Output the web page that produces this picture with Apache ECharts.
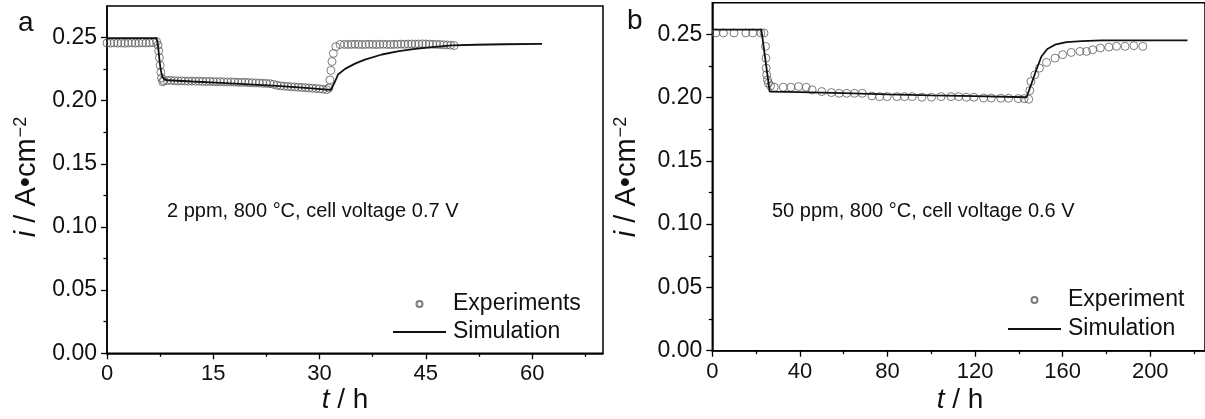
<!DOCTYPE html>
<html>
<head>
<meta charset="utf-8">
<script src="https://cdn.jsdelivr.net/npm/echarts@6/dist/echarts.min.js"></script>
<style>
  html, body { margin: 0; padding: 0; background: #fff; }
  #chart { width: 1205px; height: 419px; }
</style>
</head>
<body>
<div id="chart"></div>
<script>
// Panel a: 2 ppm, 800 °C, 0.7 V  — current density i (A/cm²) vs time t (h)
const expA = [
  [0,0.2457],[0.5,0.2456],[1,0.2458],[1.5,0.2456],[2,0.2457],[2.5,0.2455],[3,0.2457],[3.5,0.2458],
  [4,0.2456],[4.5,0.2457],[5,0.2459],[5.5,0.2457],[6,0.2458],[6.5,0.2460],[7,0.2468],[7.2,0.2440],
  [7.3,0.2395],[7.4,0.2340],[7.5,0.2280],[7.6,0.2225],[7.7,0.2180],[7.85,0.2150],[8,0.2158],[8.5,0.2160],
  [9,0.2161],[9.5,0.2158],[10,0.2157],[10.5,0.2158],[11,0.2156],[11.5,0.2155],[12,0.2156],[12.5,0.2154],
  [13,0.2155],[13.5,0.2153],[14,0.2152],[14.5,0.2153],[15,0.2151],[15.5,0.2150],[16,0.2151],[16.5,0.2149],
  [17,0.2148],[17.5,0.2149],[18,0.2147],[18.5,0.2146],[19,0.2145],[19.5,0.2146],[20,0.2143],[20.5,0.2142],
  [21,0.2141],[21.5,0.2140],[22,0.2138],[22.5,0.2137],[23,0.2135],[23.5,0.2130],[24,0.2122],[24.5,0.2118],
  [25,0.2115],[25.5,0.2113],[26,0.2110],[26.5,0.2109],[27,0.2107],[27.5,0.2105],[28,0.2103],[28.5,0.2101],
  [29,0.2099],[29.5,0.2097],[30,0.2094],[30.5,0.2091],[31,0.2088],[31.3,0.2100],[31.45,0.2165],[31.6,0.2240],
  [31.75,0.2310],[31.95,0.2375],[32.3,0.2428],[32.9,0.2445],[33.5,0.2446],[34,0.2445],[34.5,0.2446],[35,0.2447],
  [35.5,0.2446],[36,0.2445],[36.5,0.2446],[37,0.2447],[37.5,0.2446],[38,0.2445],[38.5,0.2446],[39,0.2447],
  [39.5,0.2446],[40,0.2445],[40.5,0.2446],[41,0.2447],[41.5,0.2448],[42,0.2447],[42.5,0.2448],[43,0.2449],
  [43.5,0.2448],[44,0.2449],[44.5,0.2450],[45,0.2449],[45.5,0.2448],[46,0.2447],[46.5,0.2446],[47,0.2445],
  [47.5,0.2443],[48,0.2442],[48.5,0.2440],[49,0.2437]
];
const simA = [
  [0,0.2495],[7.0,0.2495],[7.15,0.2460],[7.3,0.2380],[7.45,0.2300],[7.6,0.2240],[7.8,0.2190],[8.1,0.2168],
  [8.6,0.2162],[12,0.2152],[16,0.2142],[20,0.2130],[24,0.2117],[28,0.2102],[31.0,0.2088],[31.6,0.2087],
  [32.2,0.2154],[32.6,0.2207],[33.6,0.2252],[35.0,0.2294],[36.4,0.2326],[38.8,0.2366],[41.2,0.2392],
  [43.5,0.2411],[45.9,0.2424],[48.7,0.2438],[52,0.2443],[56,0.2447],[61.4,0.2450]
];

// Panel b: 50 ppm, 800 °C, 0.6 V
const expB = [
  [1.6,0.2511],[5.1,0.2511],[9.9,0.2511],[15.3,0.2511],[18.5,0.2511],[22.2,0.2511],[23.6,0.2511],
  [24.3,0.2405],[24.5,0.2312],[24.6,0.2233],[24.8,0.2180],[25.2,0.2140],[25.6,0.2114],[26.6,0.2093],
  [28.3,0.2082],[32.4,0.2082],[35.9,0.2082],[39.4,0.2087],[42.9,0.2082],[45.6,0.2061],[50.0,0.2048],
  [54.4,0.2040],[57.9,0.2034],[61.4,0.2034],[65.0,0.2034],[68.5,0.2034],[72.9,0.2013],[76.4,0.2008],
  [79.9,0.2008],[84.3,0.2008],[87.8,0.2008],[91.3,0.2008],[95.7,0.2003],[100.1,0.2003],[104.5,0.2008],
  [109.0,0.2008],[112.5,0.2008],[116.0,0.2003],[119.5,0.2003],[123.9,0.1997],[127.4,0.1997],[131.8,0.1995],
  [135.3,0.1995],[139.7,0.1992],[142.4,0.1992],[144.5,0.1987],[145.0,0.2056],[145.5,0.2127],[147.3,0.2180],
  [149.4,0.2233],[152.6,0.2278],[156.5,0.2312],[160.0,0.2339],[163.9,0.2357],[167.9,0.2365],[170.9,0.2365],
  [173.7,0.2378],[177.2,0.2392],[181.1,0.2399],[184.6,0.2405],[188.5,0.2405],[192.5,0.2410],[196.6,0.2405]
];
const simB = [
  [0,0.2537],[22.4,0.2537],[26.2,0.2048],[40,0.2043],[60,0.2035],[80,0.2026],[100,0.2018],[120,0.2011],
  [143.5,0.2003],[145,0.2074],[147.7,0.2206],[150.3,0.2325],[153,0.2384],[156.5,0.2418],[161.7,0.2439],
  [168.8,0.2447],[177.6,0.2452],[217,0.2452]
];

// Tick positions
const xMajorA = [0, 15, 30, 45, 60];
const xMinorA = [7.5, 22.5, 37.5, 52.5, 67.5];
const xMajorB = [0, 40, 80, 120, 160, 200];
const xMinorB = [20, 60, 100, 140, 180, 220];
const yMajor = [0, 0.05, 0.10, 0.15, 0.20, 0.25];
const yMinor = [0.025, 0.075, 0.125, 0.175, 0.225];

const FONT = '"Liberation Sans", Arial, Helvetica, sans-serif';
const INK = '#111';

function majorAxis(dim, gridIndex, max, ticks, fmt) {
  return {
    type: 'value', gridIndex, min: 0, max,
    position: dim === 'x' ? 'bottom' : 'left',
    axisLine: { show: true, onZero: false, lineStyle: { color: '#000', width: 1.5 } },
    axisTick: { show: true, inside: false, length: 6, customValues: ticks, lineStyle: { color: '#000', width: 1.3 } },
    axisLabel: { show: true, customValues: ticks, margin: 10, formatter: fmt,
      fontFamily: FONT, fontSize: dim === 'x' ? 22 : 23, color: INK },
    splitLine: { show: false }
  };
}
function minorAxis(dim, gridIndex, max, ticks) {
  return {
    type: 'value', gridIndex, min: 0, max,
    position: dim === 'x' ? 'bottom' : 'left',
    axisLine: { show: false },
    axisTick: { show: true, inside: false, length: 3.5, customValues: ticks, lineStyle: { color: '#000', width: 1.3 } },
    axisLabel: { show: false },
    splitLine: { show: false }
  };
}
const fmtY = v => v.toFixed(2);
const fmtX = v => String(v);

const expStyle = { color: 'rgba(255,255,255,0)', borderColor: '#5c5c5c', borderWidth: 1 };
const simLine = { color: '#111', width: 1.8 };
// line series carry no point symbols; a transparent item colour keeps the legend key a plain stroke
const simItem = { color: 'rgba(0,0,0,0)' };

const yTitle = (x) => ({
  type: 'text', x, y: 177, rotation: Math.PI / 2,
  style: {
    text: '{it|i} / A•cm{sup|−2}', align: 'center', verticalAlign: 'middle',
    font: '29px ' + FONT, fill: INK,
    rich: {
      it: { fontStyle: 'italic', fontSize: 29, fontFamily: FONT, fill: INK },
      sup: { fontSize: 18, fontFamily: FONT, fill: INK, verticalAlign: 'top', padding: [0, 0, 12, 1] }
    }
  }
});
const xTitle = (x) => ({
  type: 'text', x, y: 400,
  style: {
    text: '{it|t} / h', align: 'center', verticalAlign: 'middle',
    font: '28px ' + FONT, fill: INK,
    rich: { it: { fontStyle: 'italic', fontSize: 28, fontFamily: FONT, fill: INK } }
  }
});

const legendBase = {
  orient: 'vertical', padding: 0, itemWidth: 53, itemHeight: 6, selectedMode: false,
  textStyle: { fontFamily: FONT, fontSize: 23, color: INK, lineHeight: 26, padding: [0, 0, 0, 2] }
};

const chart = echarts.init(document.getElementById('chart'), null, { renderer: 'canvas' });
chart.setOption({
  animation: false,
  backgroundColor: '#fff',
  grid: [
    { left: 107, top: 6, width: 496, height: 347.3, show: true, borderColor: '#000', borderWidth: 1.5, backgroundColor: 'transparent' },
    { left: 712.3, top: 2.7, width: 494, height: 348, show: true, borderColor: '#000', borderWidth: 1.5, backgroundColor: 'transparent' }
  ],
  xAxis: [
    majorAxis('x', 0, 70, xMajorA, fmtX),
    minorAxis('x', 0, 70, xMinorA),
    majorAxis('x', 1, 225, xMajorB, fmtX),
    minorAxis('x', 1, 225, xMinorB)
  ],
  yAxis: [
    majorAxis('y', 0, 0.275, yMajor, fmtY),
    minorAxis('y', 0, 0.275, yMinor),
    majorAxis('y', 1, 0.275, yMajor, fmtY),
    minorAxis('y', 1, 0.275, yMinor)
  ],
  legend: [
    Object.assign({}, legendBase, { data: ['Experiments', 'Simulation'], left: 392, top: 291, itemGap: 2 }),
    Object.assign({}, legendBase, { data: ['Experiment', 'Simulation'], left: 1007, top: 287, itemGap: 3 })
  ],
  series: [
    { type: 'scatter', name: 'Experiments', xAxisIndex: 0, yAxisIndex: 0, data: expA,
      symbol: 'circle', symbolSize: 8, itemStyle: expStyle, z: 2 },
    { type: 'line', name: 'Simulation', xAxisIndex: 0, yAxisIndex: 0, data: simA,
      symbol: 'none', lineStyle: simLine, itemStyle: simItem, z: 3 },
    { type: 'scatter', name: 'Experiment', xAxisIndex: 2, yAxisIndex: 2, data: expB,
      symbol: 'circle', symbolSize: 8, itemStyle: expStyle, z: 2 },
    { type: 'line', name: 'Simulation', xAxisIndex: 2, yAxisIndex: 2, data: simB,
      symbol: 'none', lineStyle: simLine, itemStyle: simItem, z: 3 }
  ],
  graphic: [
    { type: 'text', x: 18, y: 23, style: { text: 'a', font: '28px ' + FONT, fill: INK, verticalAlign: 'middle' } },
    { type: 'text', x: 627, y: 21, style: { text: 'b', font: '28px ' + FONT, fill: INK, verticalAlign: 'middle' } },
    { type: 'text', x: 167, y: 211, style: { text: '2 ppm, 800 °C, cell voltage 0.7 V', font: '20px ' + FONT, fill: INK, verticalAlign: 'middle' } },
    { type: 'text', x: 772, y: 211, style: { text: '50 ppm, 800 °C, cell voltage 0.6 V', font: '20px ' + FONT, fill: INK, verticalAlign: 'middle' } },
    yTitle(27), yTitle(627),
    xTitle(345), xTitle(960)
  ]
});
</script>
</body>
</html>
